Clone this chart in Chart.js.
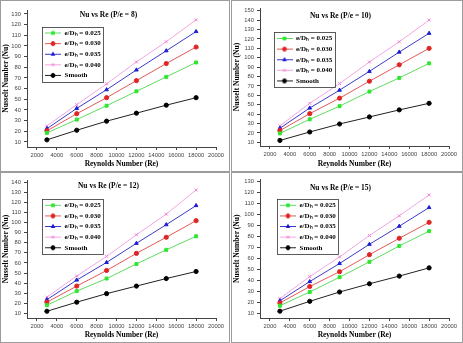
<!DOCTYPE html>
<html>
<head>
<meta charset="utf-8">
<script src="https://cdn.jsdelivr.net/npm/chart.js@4.4.1/dist/chart.umd.min.js"></script>
<style>
  body { margin: 0; background: #fff; }
  #wrap { position: relative; width: 463px; height: 343px; overflow: hidden; background: #fff; }
  .panel { position: absolute; border: 1px solid #9c9c9c; background: #fff; }
  .panel canvas { display: block; }
</style>
</head>
<body>
<div id="wrap">
  <div class="panel" style="left:0;top:0"><canvas id="c8" width="228" height="170"></canvas></div>
  <div class="panel" style="left:231px;top:0"><canvas id="c10" width="230" height="170"></canvas></div>
  <div class="panel" style="left:0;top:172px"><canvas id="c12" width="228" height="169"></canvas></div>
  <div class="panel" style="left:231px;top:172px"><canvas id="c15" width="230" height="169"></canvas></div>
</div>
<script>
// Reynolds numbers tested (x values) and axis ticks
const reynolds = [3000, 6000, 9000, 12000, 15000, 18000];
const xTicks = [2000, 4000, 6000, 8000, 10000, 12000, 14000, 16000, 18000, 20000];
const seriesNames = ['e/D\u2095 = 0.025', 'e/D\u2095 = 0.030', 'e/D\u2095 = 0.035', 'e/D\u2095 = 0.040', 'Smooth'];

// P/e = 8
const p8e025 = [18.5, 31, 44, 57.5, 71, 84.5];
const p8e030 = [20.5, 36.5, 51.5, 67.5, 83.5, 99];
const p8e035 = [22.5, 41.5, 59, 77.5, 95.5, 113.5];
const p8e040 = [25, 45, 64.5, 85, 104, 124.5];
const p8smooth = [12, 21, 29.5, 37, 44.5, 51.5];
const yTicks8 = [10, 20, 30, 40, 50, 60, 70, 80, 90, 100, 110, 120, 130];

// P/e = 10
const p10e025 = [19.5, 34.5, 48.5, 64, 78.5, 94];
const p10e030 = [22.5, 40.5, 57, 75, 92.5, 110];
const p10e035 = [25, 46.5, 65.5, 85.5, 106, 126];
const p10e040 = [27.5, 51.5, 72.5, 95.5, 117, 140];
const p10smooth = [12, 21, 29.5, 37, 44.5, 51.5];
const yTicks10 = [10, 20, 30, 40, 50, 60, 70, 80, 90, 100, 110, 120, 130, 140, 150];

// P/e = 12
const p12e025 = [18, 32, 44.5, 59, 73, 86.5];
const p12e030 = [21, 37, 52.5, 69.5, 85.5, 102];
const p12e035 = [23.5, 43, 60.5, 79.5, 98, 117];
const p12e040 = [26, 47, 66.5, 88, 108.5, 132.5];
const p12smooth = [12, 21, 29.5, 37, 44.5, 51.5];
const yTicks12 = [10, 20, 30, 40, 50, 60, 70, 80, 90, 100, 110, 120, 130, 140];

// P/e = 15
const p15e025 = [17, 29.5, 43, 57, 71.5, 85];
const p15e030 = [19.5, 34.5, 48, 63.5, 78.5, 93];
const p15e035 = [21.5, 39, 55.5, 73, 89.5, 106.5];
const p15e040 = [23.5, 43.5, 61.5, 81, 99, 118];
const p15smooth = [12, 21, 29.5, 37, 44, 51.5];
const yTicks15 = [10, 20, 30, 40, 50, 60, 70, 80, 90, 100, 110, 120, 130];

const styles = [
  { line: '#5fdc5f', marker: '#2fe62f', shape: 'rect' },
  { line: '#e45858', marker: '#e02424', shape: 'circle' },
  { line: '#3a3ac8', marker: '#1c1cd6', shape: 'triangle' },
  { line: '#f2a6e2', marker: '#f27fd6', shape: 'crossRot' },
  { line: '#222222', marker: '#000000', shape: 'circle' }
];

const serif = "'Liberation Serif', 'Times New Roman', serif";
const sans = "'Liberation Sans', Arial, sans-serif";

function legendIcon(st) {
  const c = document.createElement('canvas');
  c.width = 16; c.height = 7;
  const ctx = c.getContext('2d');
  ctx.strokeStyle = st.line;
  ctx.lineWidth = 1;
  ctx.beginPath();
  ctx.moveTo(0, 3.5); ctx.lineTo(16, 3.5);
  ctx.stroke();
  ctx.fillStyle = st.marker;
  ctx.strokeStyle = st.marker;
  Chart.helpers.drawPoint(ctx, { pointStyle: st.shape, radius: 2, borderWidth: 1, rotation: 0 }, 8, 3.5);
  return c;
}

// moves the chartArea legend to its spot and draws the box round it
const legendFrame = {
  id: 'legendFrame',
  afterLayout(chart, args, opts) {
    const lg = chart.legend;
    const pad = lg.options.labels.padding;
    const fs = lg.options.labels.font.size;
    const w = lg.width, h = lg.height;
    lg.left = opts.x - pad;
    lg.top = opts.y - fs / 2 - pad;
    lg.right = lg.left + w;
    lg.bottom = lg.top + h;
  },
  afterDraw(chart) {
    const hb = chart.legend.legendHitBoxes;
    if (!hb || !hb.length) return;
    let x0 = Infinity, y0 = Infinity, x1 = -Infinity, y1 = -Infinity;
    hb.forEach(b => {
      x0 = Math.min(x0, b.left); y0 = Math.min(y0, b.top);
      x1 = Math.max(x1, b.left + b.width); y1 = Math.max(y1, b.top + b.height);
    });
    const ctx = chart.ctx;
    ctx.save();
    ctx.strokeStyle = '#333';
    ctx.lineWidth = 0.8;
    ctx.strokeRect(Math.round(x0 - 3) + 0.5, Math.round(y0 - 3) + 0.5, Math.round(x1 - x0 + 5), Math.round(y1 - y0 + 5.5));
    ctx.restore();
  }
};

function makePanel(id, title, series, yTicks, yMin, yMax, area, titleY, legendX, legendY) {
  const canvas = document.getElementById(id);
  const W = canvas.width, H = canvas.height;
  const lh = 9; // 7.5px * 1.2
  const datasets = series.map((arr, i) => ({
    label: seriesNames[i],
    data: reynolds.map((x, k) => ({ x: x, y: arr[k] })),
    borderColor: styles[i].line,
    backgroundColor: styles[i].marker,
    pointBackgroundColor: styles[i].marker,
    pointBorderColor: styles[i].marker,
    pointStyle: styles[i].shape,
    pointRadius: 2.1,
    pointBorderWidth: 1,
    borderWidth: 1,
    tension: 0
  }));
  const axisGrid = { display: true, drawOnChartArea: false, drawTicks: true, tickLength: 3, color: '#444', lineWidth: 1 };
  return new Chart(canvas.getContext('2d'), {
    type: 'line',
    data: { datasets: datasets },
    plugins: [legendFrame],
    options: {
      responsive: false,
      animation: false,
      layout: { padding: { left: 0, right: W - area.right, top: 0, bottom: 0 } },
      plugins: {
        tooltip: { enabled: false },
        title: {
          display: true,
          text: title,
          color: '#000',
          font: { family: serif, size: 7.5, weight: 'bold' },
          padding: { top: titleY - lh / 2, bottom: area.top - lh - (titleY - lh / 2) }
        },
        legend: {
          position: 'chartArea',
          align: 'start',
          labels: {
            usePointStyle: true,
            pointStyleWidth: 16,
            padding: 3.6,
            color: '#000',
            font: { family: serif, size: 7, weight: 'bold' },
            generateLabels(chart) {
              return Chart.defaults.plugins.legend.labels.generateLabels(chart).map((it, i) => {
                it.pointStyle = legendIcon(styles[i]);
                return it;
              });
            }
          }
        },
        legendFrame: { x: legendX, y: legendY }
      },
      scales: {
        x: {
          type: 'linear',
          min: 1000,
          max: 20000,
          afterBuildTicks(s) { s.ticks = xTicks.map(v => ({ value: v })); },
          afterFit(s) { s.height = H - area.bottom; },
          ticks: { color: '#444', padding: 2, maxRotation: 0, autoSkip: false, font: { family: sans, size: 5.8 }, callback: v => String(v) },
          grid: axisGrid,
          border: { display: true, color: '#444', width: 1 },
          title: { display: true, text: 'Reynolds Number (Re)', color: '#000', font: { family: serif, size: 7.5, weight: 'bold' }, padding: { top: 0, bottom: 2 } }
        },
        y: {
          type: 'linear',
          min: yMin,
          max: yMax,
          afterBuildTicks(s) { s.ticks = yTicks.map(v => ({ value: v })); },
          afterFit(s) { s.width = area.left; },
          ticks: { color: '#444', padding: 3, autoSkip: false, font: { family: sans, size: 5.8 }, callback: v => String(v) },
          grid: axisGrid,
          border: { display: true, color: '#444', width: 1 },
          title: { display: true, text: 'Nusselt Number (Nu)', color: '#000', font: { family: serif, size: 7.5, weight: 'bold' }, padding: { top: 0.5, bottom: 0 } }
        }
      }
    }
  });
}

makePanel('c8', 'Nu vs Re (P/e = 8)', [p8e025, p8e030, p8e035, p8e040, p8smooth], yTicks8, 5.3, 133.7,
  { left: 26, right: 215, top: 9, bottom: 146 }, 14, 44, 32);
makePanel('c10', 'Nu vs Re (P/e = 10)', [p10e025, p10e030, p10e035, p10e040, p10smooth], yTicks10, 6.1, 152.9,
  { left: 28, right: 217, top: 7, bottom: 145 }, 14.7, 44.5, 37.5);
makePanel('c12', 'Nu vs Re (P/e = 12)', [p12e025, p12e030, p12e035, p12e040, p12smooth], yTicks12, 5.3, 142.4,
  { left: 26, right: 215, top: 7, bottom: 145 }, 13.3, 44, 32.3);
makePanel('c15', 'Nu vs Re (P/e = 15)', [p15e025, p15e030, p15e035, p15e040, p15smooth], yTicks15, 5.8, 132.1,
  { left: 28, right: 217, top: 4, bottom: 145 }, 12.3, 48, 32.3);
</script>
</body>
</html>
